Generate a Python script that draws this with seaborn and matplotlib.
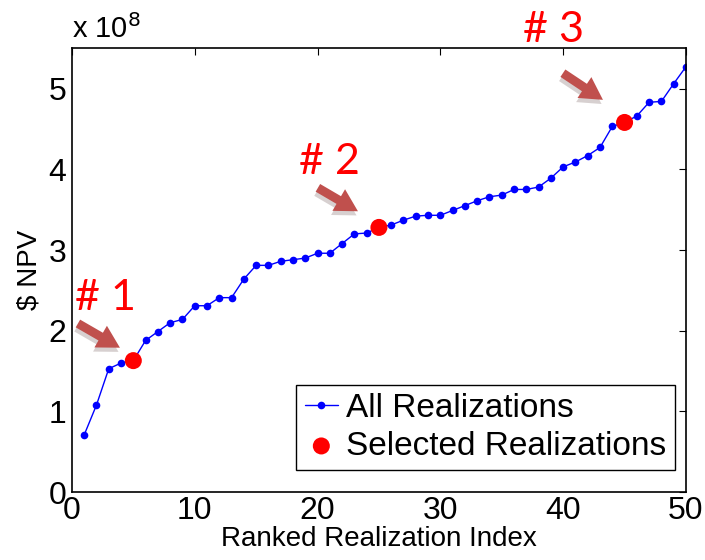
import matplotlib
matplotlib.use("Agg")
import matplotlib.pyplot as plt
import matplotlib.patheffects as pe
import seaborn as sns
import pandas as pd

# Ranked NPV values (units of 1e8 $)
rank_index = list(range(1, 51))
npv_e8 = [0.71, 1.08, 1.53, 1.60, 1.63, 1.88, 1.99, 2.10, 2.14, 2.31,
          2.31, 2.41, 2.41, 2.64, 2.81, 2.81, 2.86, 2.88, 2.90, 2.96,
          2.96, 3.08, 3.20, 3.21, 3.28, 3.31, 3.37, 3.42, 3.43, 3.43,
          3.49, 3.55, 3.61, 3.66, 3.68, 3.75, 3.75, 3.78, 3.89, 4.03,
          4.09, 4.17, 4.27, 4.53, 4.58, 4.66, 4.83, 4.84, 5.06, 5.27]
selected_index = [5, 25, 45]
selected_labels = ["# 1", "# 2", "# 3"]
x_ticks = [0, 10, 20, 30, 40, 50]
y_ticks = [0, 1, 2, 3, 4, 5]

df = pd.DataFrame({"idx": rank_index, "npv": npv_e8})
sel = df[df["idx"].isin(selected_index)]

sns.set_style("white")
plt.rcParams["font.family"] = ["Liberation Sans", "DejaVu Sans"]
plt.rcParams["text.color"] = "black"
plt.rcParams["axes.labelcolor"] = "black"
plt.rcParams["xtick.color"] = "black"
plt.rcParams["ytick.color"] = "black"

fig = plt.figure(figsize=(7.05, 5.6), dpi=100)
ax = fig.add_axes([0.102, 0.121, 0.871, 0.793])

sns.lineplot(data=df, x="idx", y="npv", ax=ax, color="#0000ff", lw=1,
             marker="o", markersize=5.5, markeredgewidth=0,
             label="All Realizations")
sns.scatterplot(data=sel, x="idx", y="npv", ax=ax, color="#ff0000", s=150,
                edgecolor="none", label="Selected Realizations", zorder=5)

ax.set_xlim(0, 50)
ax.set_ylim(0, 5.5)
ax.set_xticks(x_ticks)
ax.set_yticks(y_ticks)
ax.tick_params(axis="both", direction="in", length=5, width=0.8,
               top=True, right=True, labelsize=23, color="black")
ax.tick_params(axis="x", pad=3)
ax.tick_params(axis="y", pad=4)
for s in ax.spines.values():
    s.set_color("black")
    s.set_linewidth(1.2)
ax.set_xlabel("Ranked Realization Index", fontsize=20, labelpad=0)
ax.set_ylabel("$ NPV", fontsize=20, labelpad=4)
ax.text(0.0, 1.01, "x 10$^{8}$", transform=ax.transAxes, fontsize=21,
        ha="left", va="bottom")

leg = ax.legend(loc="lower right", bbox_to_anchor=(0.982, 0.05),
                borderaxespad=0, fontsize=24, frameon=True, fancybox=False,
                edgecolor="black", framealpha=1, handlelength=1.0,
                handletextpad=0.25, borderpad=0.25, labelspacing=0.2)
leg.get_frame().set_linewidth(1.0)

# Annotations with arrows
label_pos = [(2.77, 2.41), (21.0, 4.09), (39.25, 5.73)]
arrow_start = [(0.49, 2.09), (20.03, 3.77), (39.98, 5.19)]
arrow_end = [(3.91, 1.79), (23.29, 3.48), (43.24, 4.86)]
for lab, lp, a0, a1 in zip(selected_labels, label_pos, arrow_start, arrow_end):
    ax.text(lp[0], lp[1], lab, color="#ff0000", fontsize=31,
            family=["Lato", "DejaVu Sans"], ha="center", va="center",
            clip_on=False)
    ax.annotate("", xy=a1, xytext=a0,
                arrowprops=dict(arrowstyle="simple,head_length=0.8,head_width=0.9,tail_width=0.32",
                                mutation_scale=20, shrinkA=0, shrinkB=0,
                                color="#c0504d", lw=0,
                                path_effects=[pe.SimplePatchShadow(offset=(-1, -3), alpha=0.2),
                                              pe.Normal()]),
                annotation_clip=False)

fig.savefig("out.png", dpi=100)
